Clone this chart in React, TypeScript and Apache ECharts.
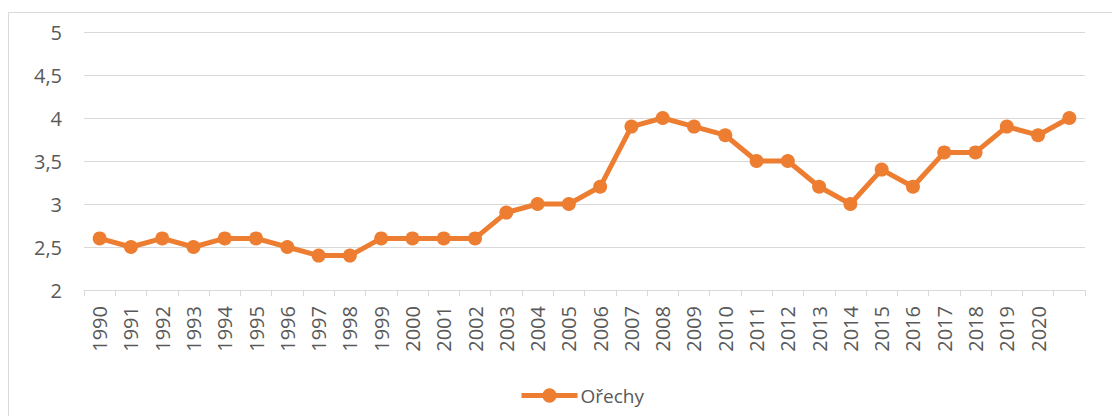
import React, { useEffect, useRef } from "react";
import * as echarts from "echarts";

const years: string[] = [
  "1990", "1991", "1992", "1993", "1994", "1995", "1996", "1997", "1998", "1999",
  "2000", "2001", "2002", "2003", "2004", "2005", "2006", "2007", "2008", "2009",
  "2010", "2011", "2012", "2013", "2014", "2015", "2016", "2017", "2018", "2019",
  "2020", "",
];
const orechy: number[] = [
  2.6, 2.5, 2.6, 2.5, 2.6, 2.6, 2.5, 2.4, 2.4, 2.6,
  2.6, 2.6, 2.6, 2.9, 3.0, 3.0, 3.2, 3.9, 4.0, 3.9,
  3.8, 3.5, 3.5, 3.2, 3.0, 3.4, 3.2, 3.6, 3.6, 3.9,
  3.8, 4.0,
];
const seriesName = "Ořechy";

const FONT = "'Open Sans', 'Liberation Sans', Arial, sans-serif";
const ORANGE = "#ED7D31";
const GRID = "#D9D9D9";
const TEXT = "#595959";

export default function App() {
  const ref = useRef<HTMLDivElement>(null);
  useEffect(() => {
    document.body.style.margin = "0";
    if (!ref.current) return;
    const chart = echarts.init(ref.current, null, { renderer: "svg" });
    chart.setOption({
      animation: false,
      backgroundColor: "#ffffff",
      textStyle: { fontFamily: FONT },
      graphic: [
        {
          type: "rect",
          shape: { x: 8.5, y: 12.5, width: 1200, height: 600 },
          style: { fill: "none", stroke: GRID, lineWidth: 1 },
          silent: true,
          z: -10,
        },
      ],
      grid: { left: 84, right: 27, top: 32, bottom: 126 },
      legend: {
        data: [seriesName],
        left: 514,
        top: 381,
        itemWidth: 56,
        itemHeight: 18,
        itemGap: 4,
        lineStyle: { width: 5 },
        textStyle: { fontFamily: FONT, fontSize: 19, color: TEXT, padding: [0, 0, 0, -2] },
      },
      xAxis: {
        type: "category",
        data: years,
        boundaryGap: true,
        axisLine: { show: true, lineStyle: { color: GRID, width: 1 } },
        axisTick: { show: true, length: 6, lineStyle: { color: GRID, width: 1 } },
        axisLabel: {
          interval: 0,
          rotate: 90,
          margin: 16,
          fontFamily: FONT,
          fontSize: 20,
          color: TEXT,
        },
      },
      yAxis: {
        type: "value",
        min: 2,
        max: 5,
        interval: 0.5,
        axisLine: { show: false },
        axisTick: { show: false },
        splitLine: { lineStyle: { color: GRID, width: 1 } },
        axisLabel: {
          margin: 22,
          fontFamily: FONT,
          fontSize: 20,
          color: TEXT,
          formatter: (v: number) => String(v).replace(".", ","),
        },
      },
      series: [
        {
          name: seriesName,
          type: "line",
          data: orechy,
          symbol: "circle",
          symbolSize: 14,
          lineStyle: { color: ORANGE, width: 5 },
          itemStyle: { color: ORANGE },
        },
      ],
    });
    return () => chart.dispose();
  }, []);
  return <div ref={ref} style={{ width: 1112, height: 416 }} />;
}
